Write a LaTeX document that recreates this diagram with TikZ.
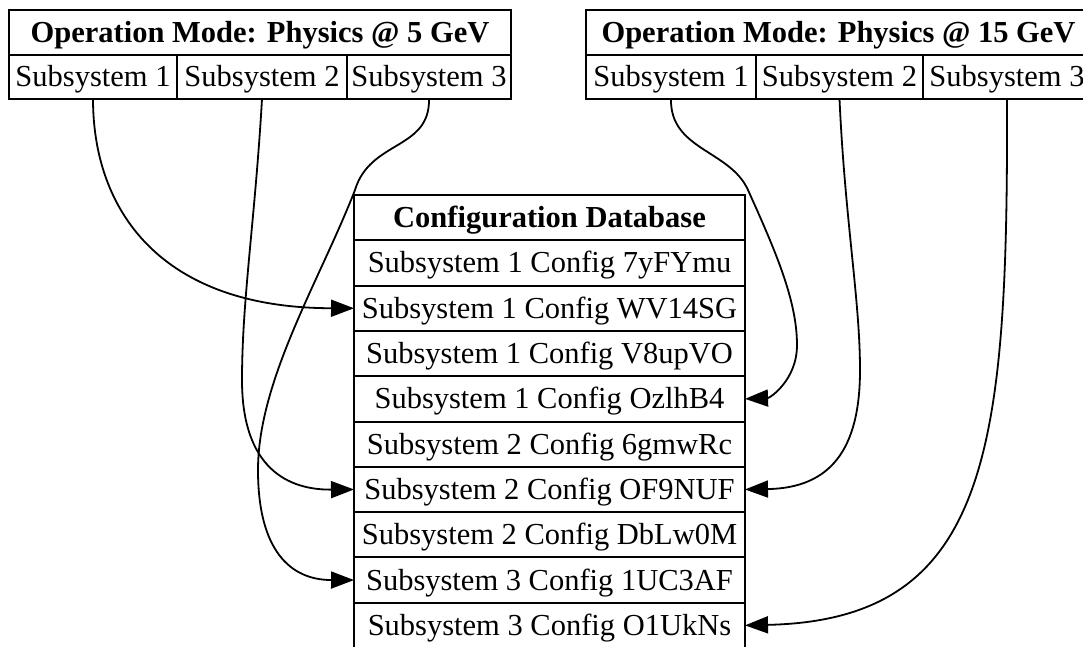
\documentclass[tikz,border=0pt]{standalone}
\usepackage{fontspec}
\setmainfont{Liberation Serif}
\usetikzlibrary{arrows.meta,positioning}

\begin{document}
\begin{tikzpicture}[
      x=1pt, y=-1pt,
      field/.style={
         draw=black,
         line width=2pt,
         outer sep=0pt,
         inner sep=0pt,
         minimum height=44.5pt,
         text height=22.9pt,
         text depth=3pt,
         font=\fontsize{30.5pt}{36pt}\selectfont},
      headfield/.style={
         field,
         font=\fontsize{30.5pt}{36pt}\selectfont\bfseries},
      dbfield/.style={
         field,
         minimum width=391pt,
         minimum height=45.3pt},
      link/.style={
         -{Triangle[length=23pt,width=17pt]},
         line width=1.8pt},
      node distance=0pt,
      ]
      \useasboundingbox (0,0) rectangle (1083,646);

      % operation mode 5 GeV
      \node[headfield, minimum width=502pt, anchor=north west] (mode5) at (9,10)
         {Operation Mode: Physics @ 5 GeV};
      \node[field, minimum width=168pt, below=of mode5.south west, anchor=north west] (m5s1) {Subsystem 1};
      \node[field, minimum width=170pt, right=of m5s1] (m5s2) {Subsystem 2};
      \node[field, minimum width=164pt, right=of m5s2] (m5s3) {Subsystem 3};

      % operation mode 15 GeV
      \node[headfield, minimum width=505pt, anchor=north west] (mode15) at (586,10)
         {Operation Mode: Physics @ 15 GeV};
      \node[field, minimum width=170pt, below=of mode15.south west, anchor=north west] (m15s1) {Subsystem 1};
      \node[field, minimum width=167pt, right=of m15s1] (m15s2) {Subsystem 2};
      \node[field, minimum width=168pt, right=of m15s2] (m15s3) {Subsystem 3};

      % database
      \node[dbfield, font=\fontsize{30.5pt}{36pt}\selectfont\bfseries, anchor=north west] (db0) at (354,195)
         {Configuration Database};
      \foreach \txt [count=\i] in {% config rows
        1 Config 7yFYmu,
        1 Config WV14SG,
        1 Config V8upVO,
        1 Config OzlhB4,
        2 Config 6gmwRc,
        2 Config OF9NUF,
        2 Config DbLw0M,
        3 Config 1UC3AF,
        3 Config O1UkNs}
      {
        \pgfmathtruncatemacro{\j}{\i-1}
        \node[dbfield, below=of db\j] (db\i) {Subsystem \txt};
      }

    %%% 5 GeV links
    \draw[link] (m5s1.south) .. controls (93,210) and (160,308) .. (db2.west);
    \draw[link] (m5s2.south) .. controls (255,220) and (242,300) .. (242,380)
        .. controls (242,460) and (280,490) .. (db6.west);
    \draw[link] (m5s3.south) .. controls (430,150) and (370,140) .. (355,190)
        .. controls (320,280) and (258,380) .. (258,470)
        .. controls (258,550) and (290,580) .. (db8.west);

    %%% 15 GeV links
    \draw[link] (m15s1.south) .. controls (670,150) and (730,150) .. (748,190)
        .. controls (775,250) and (797,300) .. (797,345)
        .. controls (797,380) and (770,398) .. (db4.east);
    \draw[link] (m15s2.south) .. controls (845,220) and (860,300) .. (860,370)
        .. controls (860,450) and (830,488) .. (db6.east);
    \draw[link] (m15s3.south) .. controls (1008,450) and (990,620) .. (db9.east);
\end{tikzpicture}
\end{document}
